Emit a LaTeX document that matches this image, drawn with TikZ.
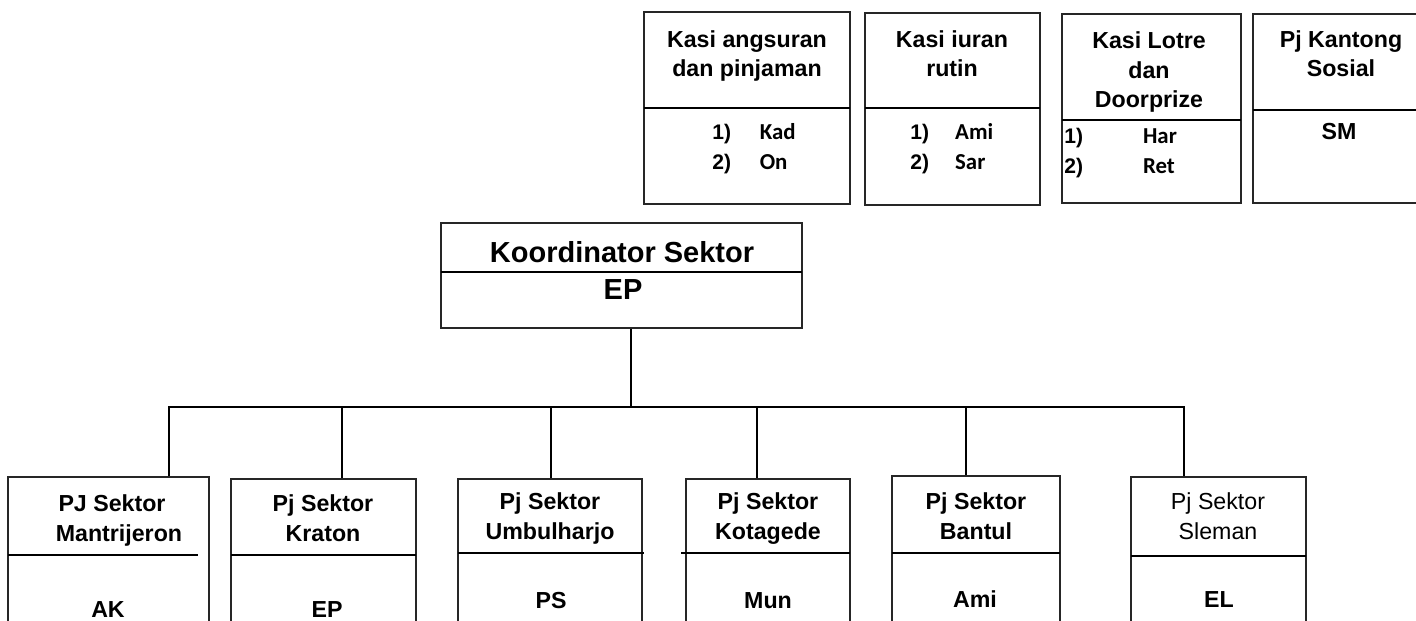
\documentclass[tikz,border=0pt]{standalone}
\usepackage{fontspec}
\setmainfont{Liberation Sans}
\newfontfamily\namefont{Carlito}
\usetikzlibrary{positioning,fit}
\newcommand{\pname}[1]{{\namefont\fontsize{13}{17}\selectfont #1}}

\begin{document}
\begin{tikzpicture}
  [
    x=0.02cm, y=-0.02cm,
    Box/.style={rectangle, draw=black!85, line width=0.7pt, inner sep=0pt},
    Bar/.style={draw=black, line width=1.1pt},
    Link/.style={draw=black, line width=1.1pt, line join=miter},
    Title/.style={font=\bfseries\fontsize{13.2}{17}\selectfont, align=center, inner sep=0pt, anchor=base},
    Plain/.style={font=\fontsize{13.2}{17}\selectfont, align=center, inner sep=0pt, anchor=base},
    Head/.style={font=\bfseries\fontsize{16.5}{20}\selectfont, inner sep=0pt, anchor=base},
    Item/.style={font=\bfseries\fontsize{12}{17}\selectfont, inner sep=0pt, anchor=base west}
  ]
  \clip (0,0) rectangle (1416,621);

  % Top boxes
  \node[Box, fit={(644,12) (850,204)}] (angsuran) {};
  \node[Box, fit={(865,13) (1040,205)}] (iuran) {};
  \node[Box, fit={(1062,14) (1241,203)}] (lotre) {};
  \node[Box, fit={(1253,14) (1440,203)}] (kantong) {};
  \draw[Bar] (644,108) -- (850,108);
  \draw[Bar] (865,108) -- (1040,108);
  \draw[Bar] (1062,120) -- (1241,120);
  \draw[Bar] (1253,110) -- (1440,110);

  % titles sit on the baseline of their last line
  \node[Title] (angsuran-t) at (747,77) {Kasi angsuran\\dan pinjaman};
  \node[Title] (iuran-t) at (952,77) {Kasi iuran\\rutin};
  \node[Title] (lotre-t) at (1149,108) {Kasi Lotre\\dan\\Doorprize};
  \node[Title] (kantong-t) at (1341,77) {Pj Kantong\\Sosial};

  \node[Item] (angsuran-l) at (712,140) {\begin{tabular}[t]{@{}p{27pt}@{}l@{}}1) & \pname{Kad}\\2) & \pname{On}\end{tabular}};
  \node[Item] (iuran-l) at (910,140) {\begin{tabular}[t]{@{}p{25.5pt}@{}l@{}}1) & \pname{Ami}\\2) & \pname{Sar}\end{tabular}};
  \node[Item] (lotre-l) at (1064,144) {\begin{tabular}[t]{@{}p{44.8pt}@{}l@{}}1) & \pname{Har}\\2) & \pname{Ret}\end{tabular}};
  \node[Title] (kantong-n) at (1339,140) {SM};

  % Koordinator
  \node[Box, fit={(441,223) (802,328)}] (koord) {};
  \draw[Bar] (441,272) -- (802,272);
  \node[Head] (koord-t) at (622,263) {Koordinator Sektor};
  \node[Head] (koord-n) at (623,300) {EP};

  % Sector boxes
  \node[Box, fit={(8,477) (209,640)}] (mantri) {};
  \node[Box, fit={(231,479) (416,640)}] (kraton) {};
  \node[Box, fit={(458,479) (642,640)}] (umbul) {};
  \node[Box, fit={(686,479) (850,640)}] (kotagede) {};
  \node[Box, fit={(892,476) (1060,640)}] (bantul) {};
  \node[Box, fit={(1131,477) (1306,640)}] (sleman) {};
  \draw[Bar] (8,555) -- (198,555);
  \draw[Bar] (231,555) -- (416,555);
  \draw[Bar] (458,553) -- (644,553);
  \draw[Bar] (681,553) -- (850,553);
  \draw[Bar] (892,553) -- (1060,553);
  \draw[Bar] (1131,556) -- (1306,556);

  \node[Title] (mantri-t) at (112,541) {PJ Sektor\\\hspace*{0.6em}Mantrijeron};
  \node[Title] (kraton-t) at (323,541) {Pj Sektor\\Kraton};
  \node[Title] (umbul-t) at (550,539) {Pj Sektor\\Umbulharjo};
  \node[Title] (kotagede-t) at (768,539) {Pj Sektor\\Kotagede};
  \node[Title] (bantul-t) at (976,539) {Pj Sektor\\Bantul};
  \node[Plain] (sleman-t) at (1218,539) {Pj Sektor\\Sleman};

  \node[Title] (mantri-n) at (108,617) {AK};
  \node[Title] (kraton-n) at (327,617) {EP};
  \node[Title] (umbul-n) at (551,608) {PS};
  \node[Title] (kotagede-n) at (768,608) {Mun};
  \node[Title] (bantul-n) at (975,607) {Ami};
  \node[Title] (sleman-n) at (1219,607) {EL};

  % Lines
  \coordinate (hub) at (631,407);
  \coordinate (tap1) at (169,407);
  \coordinate (tap2) at (342,407);
  \coordinate (tap3) at (551,407);
  \coordinate (tap4) at (757,407);
  \coordinate (tap5) at (966,407);
  \coordinate (tap6) at (1184,407);
  \draw[Link] (koord.south -| hub) -- (hub);
  \draw[Link] (tap1 |- mantri.north) -- (tap1) -- (tap6) -- (tap6 |- sleman.north);
  \draw[Link] (tap2) -- (tap2 |- kraton.north);
  \draw[Link] (tap3) -- (tap3 |- umbul.north);
  \draw[Link] (tap4) -- (tap4 |- kotagede.north);
  \draw[Link] (tap5) -- (tap5 |- bantul.north);

\end{tikzpicture}
\end{document}
